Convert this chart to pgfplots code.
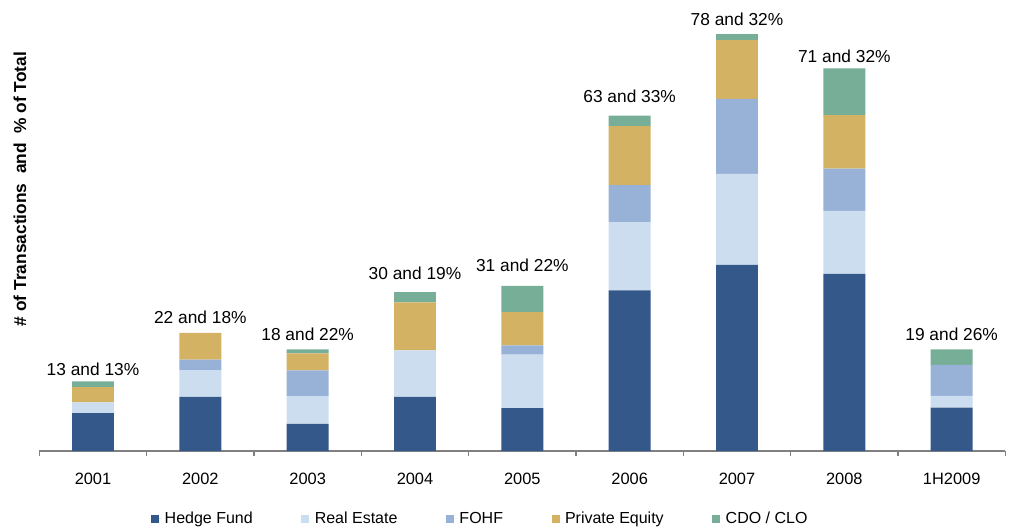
\documentclass[border=0pt]{standalone}
\usepackage{pgfplots}
\pgfplotsset{compat=1.18}
\usepackage{fontspec}
\setmainfont{Liberation Sans}
\definecolor{hf}{HTML}{34588A}
\definecolor{re}{HTML}{CCDDEF}
\definecolor{fohf}{HTML}{98B2D7}
\definecolor{pe}{HTML}{D4B264}
\definecolor{cdo}{HTML}{77AE97}
\definecolor{axgray}{HTML}{808080}
\tikzset{dlab/.style={anchor=base, inner sep=0pt, font=\fontsize{13}{15}\selectfont}}
\begin{document}
\begin{tikzpicture}
\path[use as bounding box] (0,0) rectangle (760.5pt,396.75pt);
\begin{axis}[
  at={(29.5pt,58.5pt)}, anchor=south west,
  scale only axis, width=724.5pt, height=323.25pt,
  ybar stacked, bar width=0.39,
  xmin=-0.5, xmax=8.5, ymin=0, ymax=80.56,
  axis x line=bottom, axis y line=none,
  axis line style={-, draw=axgray, line width=1.1pt},
  xtick={0,...,8},
  xticklabels={2001,2002,2003,2004,2005,2006,2007,2008,1H2009},
  major tick length=0pt,
  minor xtick={-0.5,0.5,1.5,2.5,3.5,4.5,5.5,6.5,7.5,8.5},
  minor tick length=3.5pt,
  tick align=outside,
  minor tick style={draw=axgray, line width=1pt},
  xticklabel style={font=\fontsize{12.3}{14}\selectfont, yshift=-12.8pt},
  clip=false,
  legend columns=5,
  legend style={draw=none, fill=none, at={(0.457,-0.157)}, anchor=center,
    font=\fontsize{12}{14}\selectfont,
    /tikz/every even column/.append style={column sep=34.5pt}},
  legend image code/.code={\fill[#1] (0pt,-3pt) rectangle (6pt,3pt); \path (0pt,0pt) -- (8pt,0pt);},
]
\addplot[fill=hf, draw=none] coordinates {(0,7.1) (1,10.1) (2,5.05) (3,10.1) (4,8.0) (5,30.0) (6,34.8) (7,33.1) (8,8.1)};
\addplot[fill=re, draw=none] coordinates {(0,2.0) (1,5.0) (2,5.2) (3,8.7) (4,10.0) (5,12.8) (6,17.0) (7,11.8) (8,2.2)};
\addplot[fill=fohf, draw=none] coordinates {(0,0) (1,2.0) (2,4.8) (3,0) (4,1.75) (5,6.9) (6,14.0) (7,7.9) (8,5.8)};
\addplot[fill=pe, draw=none] coordinates {(0,2.85) (1,5.0) (2,3.2) (3,9.0) (4,6.2) (5,11.0) (6,11.0) (7,10.0) (8,0)};
\addplot[fill=cdo, draw=none] coordinates {(0,1.06) (1,0) (2,0.75) (3,1.9) (4,4.9) (5,2.0) (6,1.1) (7,8.7) (8,2.9)};
\legend{Hedge Fund,Real Estate,FOHF,Private Equity,CDO / CLO}
\node[dlab] at (axis cs:0,14.2) {13 and 13\%};
\node[dlab] at (axis cs:1,23.9) {22 and 18\%};
\node[dlab] at (axis cs:2,20.6) {18 and 22\%};
\node[dlab] at (axis cs:3,32.0) {30 and 19\%};
\node[dlab] at (axis cs:4,33.5) {31 and 22\%};
\node[dlab] at (axis cs:5,65.1) {63 and 33\%};
\node[dlab] at (axis cs:6,79.6) {78 and 32\%};
\node[dlab] at (axis cs:7,72.6) {71 and 32\%};
\node[dlab] at (axis cs:8,20.6) {19 and 26\%};
\end{axis}
\node[rotate=90, font=\bfseries\fontsize{13}{15}\selectfont, inner sep=0pt] at (15pt,255pt) {\# of Transactions\ \ and\ \ \% of Total};
\end{tikzpicture}
\end{document}
